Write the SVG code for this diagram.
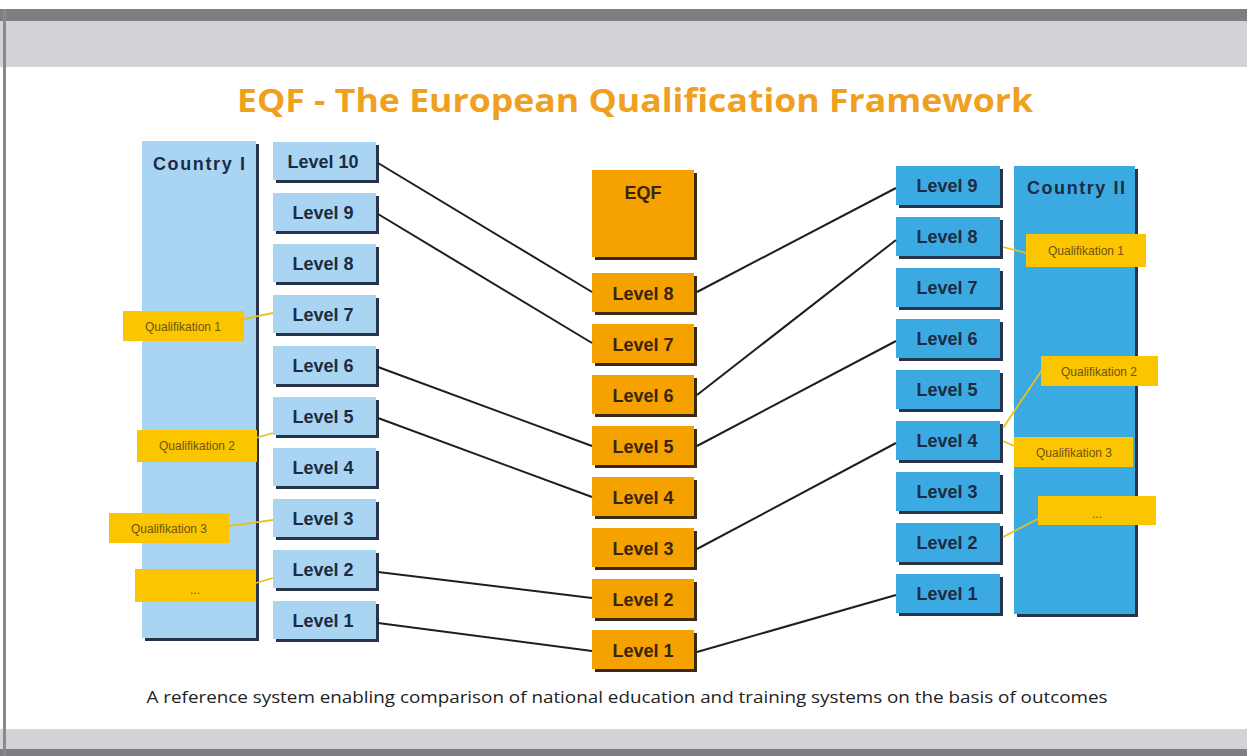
<svg xmlns="http://www.w3.org/2000/svg" width="1247" height="756" viewBox="0 0 1247 756">
<defs>
<style>
.lb{fill:#A9D5F3}
.rb{fill:#3BAAE3}
.ob{fill:#F5A100}
.sb{fill:#26334A}
.so{fill:#3A2A12}
.lt{font-family:"Liberation Sans",Arial,sans-serif;font-weight:bold;font-size:18px;fill:#1C2B42;text-anchor:middle}
.ct{font-family:"Liberation Sans",Arial,sans-serif;font-weight:bold;font-size:18px;fill:#1C2B42}
.ot{font-family:"Liberation Sans",Arial,sans-serif;font-weight:bold;font-size:18px;fill:#3A2508;text-anchor:middle}
.q{fill:#FBC600}
.qt{font-family:"Liberation Sans",Arial,sans-serif;font-size:12px;fill:#6E5410;text-anchor:middle}
.con{stroke:#1E1E1E;stroke-width:2;fill:none}
.qc{stroke:#E6C21E;stroke-width:1.8;fill:none}
</style>
</defs>
<rect x="0" y="0" width="1247" height="756" fill="#FFFFFF"/>
<rect x="0" y="9" width="1247" height="12" fill="#7E7E82"/>
<rect x="0" y="21" width="1247" height="46" fill="#D2D3D6"/>
<rect x="0" y="729" width="1247" height="20" fill="#D2D3D6"/>
<rect x="0" y="749" width="1247" height="7" fill="#7E7E82"/>
<rect x="3" y="9" width="3" height="747" fill="#8A8A8E"/>
<text x="635" y="112" font-family="'Open Sans','Liberation Sans',sans-serif" font-weight="bold" font-size="33" fill="#F0A020" text-anchor="middle" textLength="796" lengthAdjust="spacingAndGlyphs">EQF - The European Qualification Framework</text>

<g id="country1"><rect class="sb" x="145" y="144" width="114" height="497"/><rect class="lb" x="142" y="141" width="114" height="497"/><text class="ct" x="153" y="170" textLength="92" lengthAdjust="spacing">Country  I</text></g>
<g id="l10"><rect class="sb" x="276" y="145" width="103" height="38"/><rect class="lb" x="273" y="142" width="103" height="38"/><text class="lt" x="323" y="168">Level 10</text></g>
<g id="l9"><rect class="sb" x="276" y="196" width="103" height="38"/><rect class="lb" x="273" y="193" width="103" height="38"/><text class="lt" x="323" y="219">Level 9</text></g>
<g id="l8"><rect class="sb" x="276" y="247" width="103" height="38"/><rect class="lb" x="273" y="244" width="103" height="38"/><text class="lt" x="323" y="270">Level 8</text></g>
<g id="l7"><rect class="sb" x="276" y="298" width="103" height="38"/><rect class="lb" x="273" y="295" width="103" height="38"/><text class="lt" x="323" y="321">Level 7</text></g>
<g id="l6"><rect class="sb" x="276" y="349" width="103" height="38"/><rect class="lb" x="273" y="346" width="103" height="38"/><text class="lt" x="323" y="372">Level 6</text></g>
<g id="l5"><rect class="sb" x="276" y="400" width="103" height="38"/><rect class="lb" x="273" y="397" width="103" height="38"/><text class="lt" x="323" y="423">Level 5</text></g>
<g id="l4"><rect class="sb" x="276" y="451" width="103" height="38"/><rect class="lb" x="273" y="448" width="103" height="38"/><text class="lt" x="323" y="474">Level 4</text></g>
<g id="l3"><rect class="sb" x="276" y="502" width="103" height="38"/><rect class="lb" x="273" y="499" width="103" height="38"/><text class="lt" x="323" y="525">Level 3</text></g>
<g id="l2"><rect class="sb" x="276" y="553" width="103" height="38"/><rect class="lb" x="273" y="550" width="103" height="38"/><text class="lt" x="323" y="576">Level 2</text></g>
<g id="l1"><rect class="sb" x="276" y="604" width="103" height="38"/><rect class="lb" x="273" y="601" width="103" height="38"/><text class="lt" x="323" y="627">Level 1</text></g>

<g id="eqf"><rect class="so" x="595" y="173" width="102" height="87"/><rect class="ob" x="592" y="170" width="102" height="87"/><text class="ot" x="643" y="199">EQF</text></g>
<g id="e8"><rect class="so" x="595" y="276" width="102" height="39"/><rect class="ob" x="592" y="273" width="102" height="39"/><text class="ot" x="643" y="300">Level 8</text></g>
<g id="e7"><rect class="so" x="595" y="327" width="102" height="39"/><rect class="ob" x="592" y="324" width="102" height="39"/><text class="ot" x="643" y="351">Level 7</text></g>
<g id="e6"><rect class="so" x="595" y="378" width="102" height="39"/><rect class="ob" x="592" y="375" width="102" height="39"/><text class="ot" x="643" y="402">Level 6</text></g>
<g id="e5"><rect class="so" x="595" y="429" width="102" height="39"/><rect class="ob" x="592" y="426" width="102" height="39"/><text class="ot" x="643" y="453">Level 5</text></g>
<g id="e4"><rect class="so" x="595" y="480" width="102" height="39"/><rect class="ob" x="592" y="477" width="102" height="39"/><text class="ot" x="643" y="504">Level 4</text></g>
<g id="e3"><rect class="so" x="595" y="531" width="102" height="39"/><rect class="ob" x="592" y="528" width="102" height="39"/><text class="ot" x="643" y="555">Level 3</text></g>
<g id="e2"><rect class="so" x="595" y="582" width="102" height="39"/><rect class="ob" x="592" y="579" width="102" height="39"/><text class="ot" x="643" y="606">Level 2</text></g>
<g id="e1"><rect class="so" x="595" y="633" width="102" height="39"/><rect class="ob" x="592" y="630" width="102" height="39"/><text class="ot" x="643" y="657">Level 1</text></g>

<g id="country2"><rect class="sb" x="1017" y="169" width="121" height="448"/><rect class="rb" x="1014" y="166" width="121" height="448"/><text class="ct" x="1027" y="194" textLength="98" lengthAdjust="spacing">Country  II</text></g>
<g id="r9"><rect class="sb" x="899" y="169" width="104" height="39"/><rect class="rb" x="896" y="166" width="104" height="39"/><text class="lt" x="947" y="192">Level 9</text></g>
<g id="r8"><rect class="sb" x="899" y="220" width="104" height="39"/><rect class="rb" x="896" y="217" width="104" height="39"/><text class="lt" x="947" y="243">Level 8</text></g>
<g id="r7"><rect class="sb" x="899" y="271" width="104" height="39"/><rect class="rb" x="896" y="268" width="104" height="39"/><text class="lt" x="947" y="294">Level 7</text></g>
<g id="r6"><rect class="sb" x="899" y="322" width="104" height="39"/><rect class="rb" x="896" y="319" width="104" height="39"/><text class="lt" x="947" y="345">Level 6</text></g>
<g id="r5"><rect class="sb" x="899" y="373" width="104" height="39"/><rect class="rb" x="896" y="370" width="104" height="39"/><text class="lt" x="947" y="396">Level 5</text></g>
<g id="r4"><rect class="sb" x="899" y="424" width="104" height="39"/><rect class="rb" x="896" y="421" width="104" height="39"/><text class="lt" x="947" y="447">Level 4</text></g>
<g id="r3"><rect class="sb" x="899" y="475" width="104" height="39"/><rect class="rb" x="896" y="472" width="104" height="39"/><text class="lt" x="947" y="498">Level 3</text></g>
<g id="r2"><rect class="sb" x="899" y="526" width="104" height="39"/><rect class="rb" x="896" y="523" width="104" height="39"/><text class="lt" x="947" y="549">Level 2</text></g>
<g id="r1"><rect class="sb" x="899" y="577" width="104" height="39"/><rect class="rb" x="896" y="574" width="104" height="39"/><text class="lt" x="947" y="600">Level 1</text></g>

<g id="connectors">
<path class="con" d="M378 163 L592 292"/>
<path class="con" d="M378 214 L592 343"/>
<path class="con" d="M378 367 L592 446"/>
<path class="con" d="M378 418 L592 497"/>
<path class="con" d="M378 572 L592 598"/>
<path class="con" d="M378 623 L592 651"/>
<path class="con" d="M697 292 L896 188"/>
<path class="con" d="M697 395 L896 240"/>
<path class="con" d="M697 446 L896 341"/>
<path class="con" d="M697 549 L896 443"/>
<path class="con" d="M697 652 L896 595"/>
<path class="qc" d="M244 319 L273 313"/>
<path class="qc" d="M256 438 L273 433"/>
<path class="qc" d="M229 526 L273 520"/>
<path class="qc" d="M256 583 L273 578"/>
<path class="qc" d="M1003 247 L1026 253"/>
<path class="qc" d="M1003 428 L1042 370"/>
<path class="qc" d="M1003 441 L1014 446"/>
<path class="qc" d="M1003 537 L1038 519"/>
</g>

<g id="qL1"><rect class="q" x="123" y="311" width="121" height="30"/><text class="qt" x="183" y="331">Qualifikation 1</text></g>
<g id="qL2"><rect class="q" x="137" y="430" width="120" height="32"/><text class="qt" x="197" y="450">Qualifikation 2</text></g>
<g id="qL3"><rect class="q" x="109" y="513" width="120" height="30"/><text class="qt" x="169" y="533">Qualifikation 3</text></g>
<g id="qL4"><rect class="q" x="135" y="569" width="121" height="33"/><text class="qt" x="195" y="594">...</text></g>
<g id="qR1"><rect class="q" x="1026" y="234" width="120" height="33"/><text class="qt" x="1086" y="255">Qualifikation 1</text></g>
<g id="qR2"><rect class="q" x="1041" y="356" width="117" height="30"/><text class="qt" x="1099" y="376">Qualifikation 2</text></g>
<g id="qR3"><rect class="q" x="1014" y="437" width="119" height="30"/><text class="qt" x="1074" y="457">Qualifikation 3</text></g>
<g id="qR4"><rect class="q" x="1038" y="496" width="118" height="29"/><text class="qt" x="1097" y="518">...</text></g>

<text x="627" y="703" font-family="'Open Sans','Liberation Sans',sans-serif" font-size="17" fill="#222222" text-anchor="middle" textLength="961" lengthAdjust="spacingAndGlyphs">A reference system enabling comparison of national education and training systems on the basis of outcomes</text>
</svg>
